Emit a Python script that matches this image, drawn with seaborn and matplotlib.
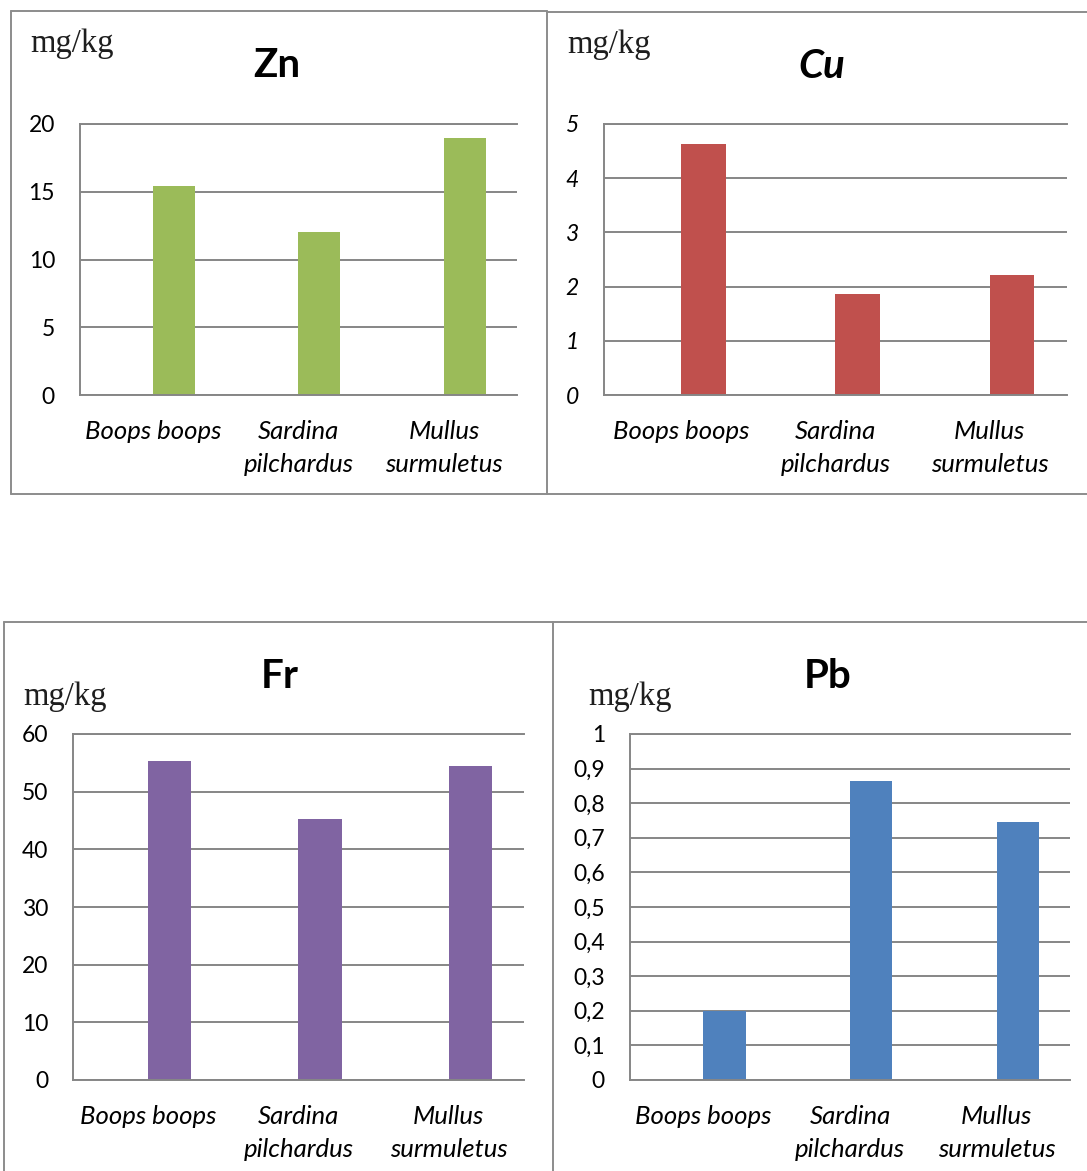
import numpy as np
import pandas as pd
import matplotlib
matplotlib.use("Agg")
import matplotlib.pyplot as plt
import seaborn as sns
from matplotlib.lines import Line2D

# Metal concentrations (mg/kg) in three fish species
species = ["Boops boops", "Sardina\npilchardus", "Mullus\nsurmuletus"]
zn_values = [15.4, 12.0, 19.0]
cu_values = [4.64, 1.87, 2.21]
fr_values = [55.3, 45.2, 54.5]
pb_values = [0.20, 0.865, 0.746]

zn_ticks = [0, 5, 10, 15, 20]
cu_ticks = [0, 1, 2, 3, 4, 5]
fr_ticks = [0, 10, 20, 30, 40, 50, 60]
pb_ticks = [0, 0.1, 0.2, 0.3, 0.4, 0.5, 0.6, 0.7, 0.8, 0.9, 1.0]
pb_tick_labels = ["0", "0,1", "0,2", "0,3", "0,4", "0,5", "0,6", "0,7", "0,8", "0,9", "1"]

sns.set_theme(style="white")
plt.rcParams["font.family"] = ["Lato", "DejaVu Sans"]

W, H = 1087, 1171
fig = plt.figure(figsize=(W / 100, H / 100), dpi=100)


def fx(px):
    return px / W


def fy(py):
    return 1 - py / H


GRID = "#868686"
BORDER = "#8c8c8c"

panels = [
    dict(title="Zn", values=zn_values, ticks=zn_ticks, tick_labels=None,
         color="#9BBB59", box=(80, 124, 517, 395), italic=False,
         title_xy=(277, 77), unit_xy=(30, 52)),
    dict(title="Cu", values=cu_values, ticks=cu_ticks, tick_labels=None,
         color="#C0504D", box=(604, 124, 1067, 395), italic=True,
         title_xy=(822, 78), unit_xy=(567, 53)),
    dict(title="Fr", values=fr_values, ticks=fr_ticks, tick_labels=None,
         color="#8064A2", box=(73, 734, 524, 1080), italic=False,
         title_xy=(280, 688), unit_xy=(23, 705)),
    dict(title="Pb", values=pb_values, ticks=pb_ticks, tick_labels=pb_tick_labels,
         color="#4F81BD", box=(630, 734, 1070, 1080), italic=False,
         title_xy=(828, 688), unit_xy=(588, 705)),
]

for p in panels:
    l, t, r, b = p["box"]
    ax = fig.add_axes([fx(l), fy(b), (r - l) / W, (b - t) / H])

    # an empty leading series keeps each bar just right of its category centre
    df = pd.DataFrame({
        "species": species * 2,
        "series": ["spacer"] * len(species) + ["measured"] * len(species),
        "value": [np.nan] * len(species) + list(p["values"]),
    })
    sns.barplot(data=df, x="species", y="value", hue="series",
                hue_order=["spacer", "measured"],
                palette={"spacer": "white", "measured": p["color"]},
                width=0.576, gap=0, dodge=True, saturation=1,
                errorbar=None, legend=False, linewidth=0, ax=ax)

    ax.set_xlim(-0.5, 2.5)
    ax.set_ylim(p["ticks"][0], p["ticks"][-1])
    if p["tick_labels"] is not None:
        ax.set_yticks(p["ticks"], labels=p["tick_labels"])
    else:
        ax.set_yticks(p["ticks"])
    ax.set_xlabel("")
    ax.set_ylabel("")

    ax.set_axisbelow(True)
    ax.yaxis.grid(True, color=GRID, linewidth=1.4)
    ax.xaxis.grid(False)
    for side in ["left", "bottom", "top"]:
        ax.spines[side].set_visible(True)
        ax.spines[side].set_color(GRID)
        ax.spines[side].set_linewidth(1.4)
    ax.spines["right"].set_visible(False)

    ax.tick_params(axis="both", length=0, colors="black")
    ax.tick_params(axis="y", pad=18, labelsize=16.5)
    ax.tick_params(axis="x", pad=18, labelsize=18.5)
    for lbl in ax.get_xticklabels():
        lbl.set_fontstyle("italic")
        lbl.set_linespacing(1.52)
    if p["italic"]:
        for lbl in ax.get_yticklabels():
            lbl.set_fontstyle("italic")

    tx, ty = p["title_xy"]
    fig.text(fx(tx), fy(ty), p["title"], ha="center", va="baseline",
             fontsize=29, fontweight="bold",
             fontstyle="italic" if p["italic"] else "normal", color="black")
    ux, uy = p["unit_xy"]
    fig.text(fx(ux), fy(uy), "mg/kg", ha="left", va="baseline",
             family=["Liberation Serif", "DejaVu Serif"], fontsize=23.5,
             color="#1e1e1e")

# frames around each chart panel
frame_segments = [
    ((11, 11), (547, 11)), ((11, 11), (11, 494)), ((11, 494), (547, 494)),
    ((547, 11), (547, 494)),
    ((547, 12), (1087, 12)), ((547, 494), (1087, 494)),
    ((4, 622), (553, 622)), ((4, 622), (4, 1171)), ((553, 622), (553, 1171)),
    ((553, 622), (1087, 622)),
]
for (x0, y0), (x1, y1) in frame_segments:
    fig.add_artist(Line2D([fx(x0), fx(x1)], [fy(y0), fy(y1)],
                          transform=fig.transFigure, color=BORDER, linewidth=1.4))

fig.savefig("out.png", dpi=100)
